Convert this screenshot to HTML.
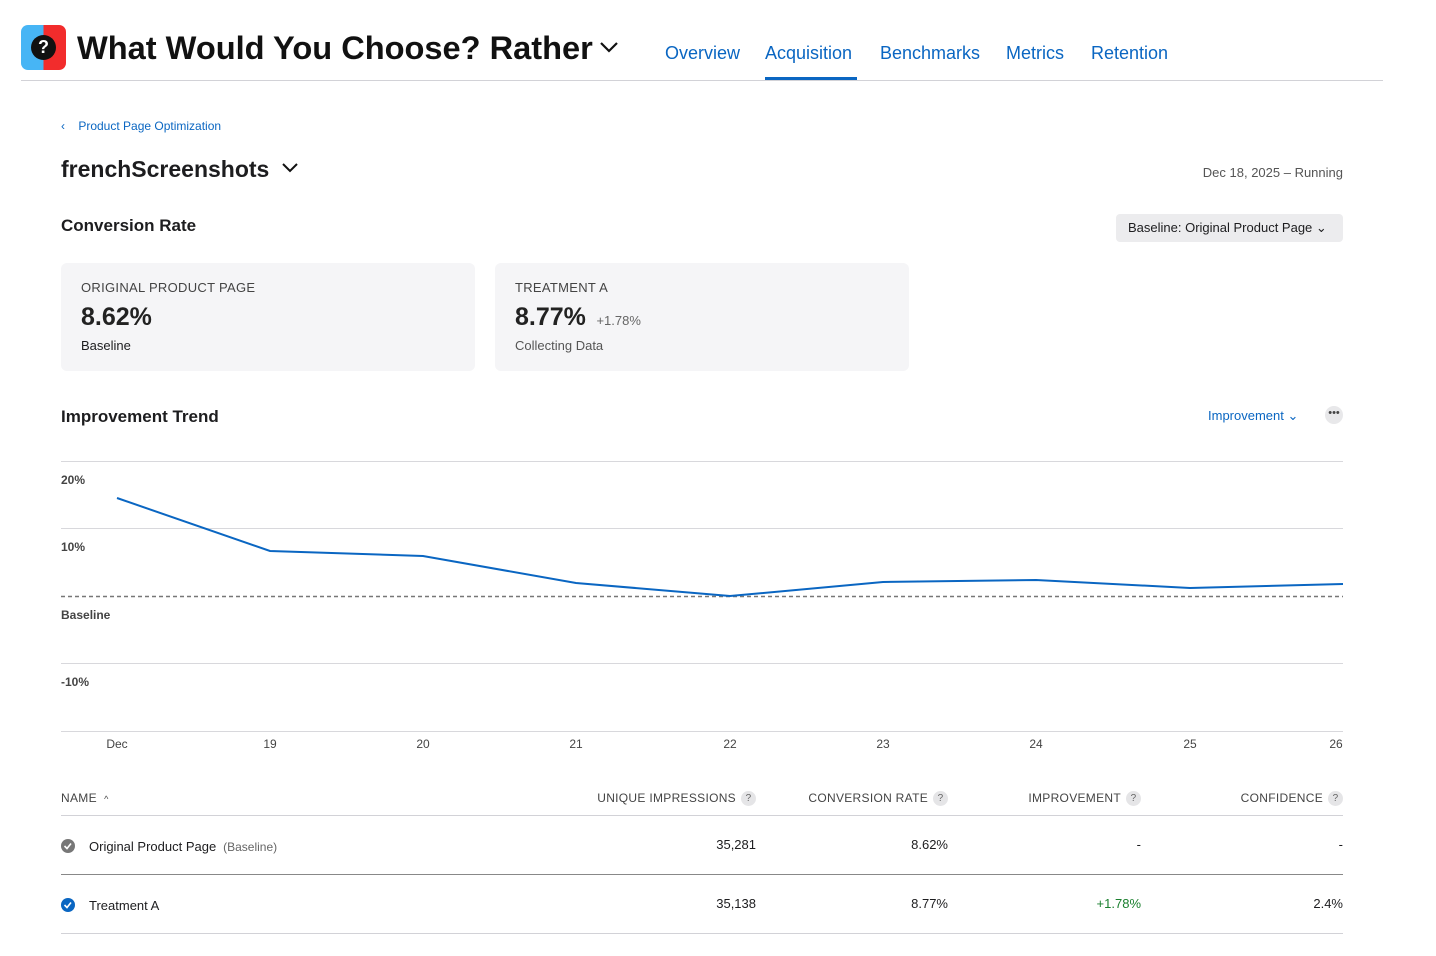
<!DOCTYPE html>
<html><head><meta charset="utf-8"><style>
*{margin:0;padding:0;box-sizing:border-box}
body{width:1436px;height:956px;background:#fff;font-family:"Liberation Sans",sans-serif;color:#1d1d1f;position:relative;overflow:hidden}
.a{position:absolute;white-space:nowrap}
.nav{font-size:18px;color:#0a66c2;top:43px}
.card{position:absolute;top:263px;width:414px;height:108px;background:#f5f5f7;border-radius:6px}
.th{font-size:12px;color:#444;top:791px;letter-spacing:.3px}
.q{display:inline-block;width:15px;height:15px;border-radius:50%;background:#e5e5e7;color:#666;font-size:10px;text-align:center;line-height:15px;margin-left:5px;vertical-align:middle}
.td{font-size:13px;color:#1d1d1f}
</style></head><body>
<div class="a" style="left:21px;top:25px;width:45px;height:45px;border-radius:7px;overflow:hidden;background:linear-gradient(90deg,#47b5f5 50%,#f22c2c 50%)"><div style="position:absolute;left:10px;top:10px;width:25px;height:25px;border-radius:50%;background:#111;color:#fff;font-weight:bold;font-size:18px;text-align:center;line-height:25px">?</div></div>
<div class="a" style="left:77px;top:29px;font-size:32.6px;font-weight:bold;color:#111">What Would You Choose? Rather</div>
<svg class="a" style="left:599px;top:40px" width="20" height="14"><path d="M2 3l8 8 8-8" stroke="#111" stroke-width="2.2" fill="none"/></svg>
<div class="a nav" style="left:665px">Overview</div>
<div class="a nav" style="left:765px">Acquisition</div>
<div class="a" style="left:765px;top:77px;width:92px;height:3px;background:#0a66c2"></div>
<div class="a nav" style="left:880px">Benchmarks</div>
<div class="a nav" style="left:1006px">Metrics</div>
<div class="a nav" style="left:1091px">Retention</div>
<div class="a" style="left:21px;top:80px;width:1362px;height:1px;background:#d2d2d7"></div>
<div class="a" style="left:61px;top:119px;font-size:12px;color:#0a66c2">‹&nbsp;&nbsp;&nbsp;&nbsp;Product Page Optimization</div>
<div class="a" style="left:61px;top:156px;font-size:23px;font-weight:bold">frenchScreenshots</div>
<svg class="a" style="left:281px;top:162px" width="18" height="12"><path d="M2 2l7 7 7-7" stroke="#111" stroke-width="2" fill="none"/></svg>
<div class="a" style="right:93px;top:165px;font-size:13px;color:#555">Dec 18, 2025 – Running</div>
<div class="a" style="left:61px;top:216px;font-size:17px;font-weight:bold">Conversion Rate</div>
<div class="a" style="left:1116px;top:214px;width:227px;height:28px;background:#ececee;border-radius:4px;font-size:13px;line-height:28px;padding-left:12px">Baseline: Original Product Page ⌄</div>
<div class="card" style="left:61px"></div>
<div class="card" style="left:495px"></div>
<div class="a" style="left:81px;top:280px;font-size:13px;color:#444;letter-spacing:.3px">ORIGINAL PRODUCT PAGE</div>
<div class="a" style="left:81px;top:303px;font-size:25px;font-weight:bold;color:#222">8.62%</div>
<div class="a" style="left:81px;top:338px;font-size:13px">Baseline</div>
<div class="a" style="left:515px;top:280px;font-size:13px;color:#444;letter-spacing:.3px">TREATMENT A</div>
<div class="a" style="left:515px;top:303px;font-size:25px;font-weight:bold;color:#222">8.77% <span style="font-size:13px;font-weight:normal;color:#666">&nbsp;+1.78%</span></div>
<div class="a" style="left:515px;top:338px;font-size:13px;color:#555">Collecting Data</div>
<div class="a" style="left:61px;top:407px;font-size:17px;font-weight:bold">Improvement Trend</div>
<div class="a" style="left:1208px;top:408px;font-size:13px;color:#0a66c2">Improvement ⌄</div>
<div class="a" style="left:1325px;top:406px;width:18px;height:18px;border-radius:50%;background:#e8e8ea;font-size:11px;text-align:center;line-height:14px;color:#444">•••</div>
<svg class="a" style="left:0;top:0" width="1436" height="956">
<g stroke="#d8d8dc" stroke-width="1"><line x1="61" x2="1343" y1="461.5" y2="461.5"/><line x1="61" x2="1343" y1="528.5" y2="528.5"/><line x1="61" x2="1343" y1="663.5" y2="663.5"/><line x1="61" x2="1343" y1="731.5" y2="731.5"/></g>
<line x1="61" x2="1343" y1="596.5" y2="596.5" stroke="#777" stroke-width="1.5" stroke-dasharray="4,3"/>
<polyline points="117,498 270,551 423,556 576,583 730,596 883,582 1036,580 1190,588 1343,584" fill="none" stroke="#0a66c2" stroke-width="2"/>
<g font-family="Liberation Sans" font-size="12" font-weight="bold" fill="#444"><text x="61" y="484">20%</text><text x="61" y="551">10%</text><text x="61" y="619">Baseline</text><text x="61" y="686">-10%</text></g>
<g font-family="Liberation Sans" font-size="12" fill="#444" text-anchor="middle"><text x="117" y="748">Dec</text><text x="270" y="748">19</text><text x="423" y="748">20</text><text x="576" y="748">21</text><text x="730" y="748">22</text><text x="883" y="748">23</text><text x="1036" y="748">24</text><text x="1190" y="748">25</text><text x="1336" y="748">26</text></g>
<line x1="61" x2="1343" y1="815.5" y2="815.5" stroke="#d2d2d7"/>
<line x1="61" x2="1343" y1="874.5" y2="874.5" stroke="#888"/>
<line x1="61" x2="1343" y1="933.5" y2="933.5" stroke="#d2d2d7"/>
<circle cx="68" cy="846" r="7" fill="#777"/><path d="M64.5 846l2.5 2.5 4-5" stroke="#fff" stroke-width="1.6" fill="none"/>
<circle cx="68" cy="905" r="7" fill="#0a66c2"/><path d="M64.5 905l2.5 2.5 4-5" stroke="#fff" stroke-width="1.6" fill="none"/>
</svg>
<div class="a th" style="left:61px">NAME &nbsp;<span style="font-size:9px">^</span></div>
<div class="a th" style="right:680px">UNIQUE IMPRESSIONS<span class="q">?</span></div>
<div class="a th" style="right:488px">CONVERSION RATE<span class="q">?</span></div>
<div class="a th" style="right:295px">IMPROVEMENT<span class="q">?</span></div>
<div class="a th" style="right:93px">CONFIDENCE<span class="q">?</span></div>
<div class="a td" style="left:89px;top:839px">Original Product Page <span style="font-size:12px;color:#666">&nbsp;(Baseline)</span></div>
<div class="a td" style="right:680px;top:837px">35,281</div>
<div class="a td" style="right:488px;top:837px">8.62%</div>
<div class="a td" style="right:295px;top:837px">-</div>
<div class="a td" style="right:93px;top:837px">-</div>
<div class="a td" style="left:89px;top:898px">Treatment A</div>
<div class="a td" style="right:680px;top:896px">35,138</div>
<div class="a td" style="right:488px;top:896px">8.77%</div>
<div class="a td" style="right:295px;top:896px;color:#1a7f2e">+1.78%</div>
<div class="a td" style="right:93px;top:896px">2.4%</div>
</body></html>
